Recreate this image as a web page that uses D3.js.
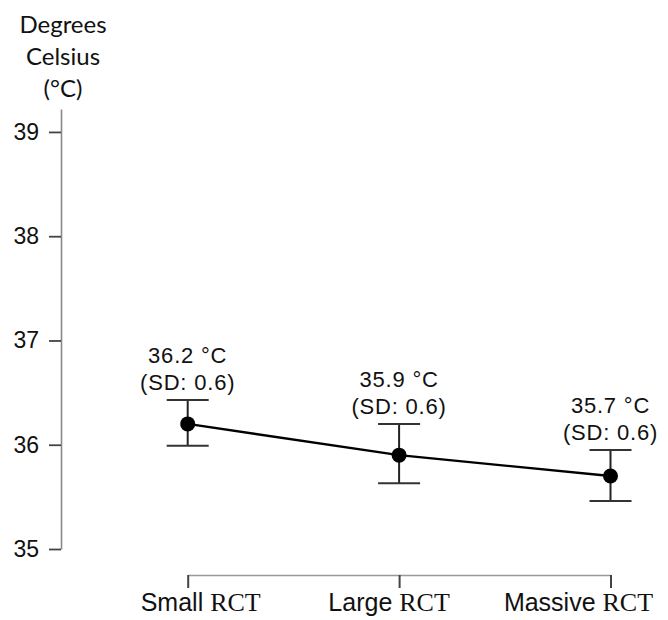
<!DOCTYPE html>
<html>
<head>
<meta charset="utf-8">
<script src="https://cdn.jsdelivr.net/npm/d3@7"></script>
<style>
  body { margin: 0; background: #fff; }
  svg { display: block; }
</style>
</head>
<body>
<script>
// values
var groups = ["Small RCT", "Large RCT", "Massive RCT"];
var means = [36.2, 35.9, 35.7];
var lower = [35.99, 35.63, 35.46];
var upper = [36.43, 36.20, 35.95];
var sds = [0.6, 0.6, 0.6];
var yTicks = [35, 36, 37, 38, 39];

var width = 668, height = 620;

var svg = d3.select("body").append("svg")
  .attr("width", width)
  .attr("height", height);

var x = d3.scalePoint().domain(groups).range([187.7, 610.5]);
var y = d3.scaleLinear().domain([35, 39.22]).range([549, 109]);

var data = groups.map(function (g, i) {
  return { group: g, mean: means[i], lo: lower[i], hi: upper[i], sd: sds[i] };
});

// Y axis
var yAxis = svg.append("g")
  .attr("transform", "translate(61,0)")
  .call(d3.axisLeft(y).tickValues(yTicks).tickSize(12).tickSizeOuter(0).tickPadding(10).tickFormat(d3.format("d")));
yAxis.select(".domain").attr("stroke", "#8a8a8a").attr("stroke-width", 1.6);
yAxis.selectAll(".tick line").attr("stroke", "#444").attr("stroke-width", 1.8);
yAxis.selectAll(".tick text")
  .attr("fill", "#111")
  .style("font-family", "'Liberation Sans', Arial, sans-serif")
  .style("font-size", "23px");

// Y title
var title = ["Degrees", "Celsius", "(°C)"];
svg.append("g").selectAll("text")
  .data(title)
  .enter()
  .append("text")
  .attr("x", 63)
  .attr("y", function (d, i) { return 33 + i * 32; })
  .attr("text-anchor", "middle")
  .style("font-family", "Lato, 'Open Sans', sans-serif")
  .style("font-size", "24px")
  .attr("fill", "#111")
  .text(function (d) { return d; });

// X axis
var xAxis = svg.append("g")
  .attr("transform", "translate(0,575)")
  .call(d3.axisBottom(x).tickSize(13).tickSizeOuter(0).tickFormat(""));
xAxis.select(".domain").attr("stroke", "#999").attr("stroke-width", 1.6);
xAxis.selectAll(".tick line").attr("stroke", "#444").attr("stroke-width", 2);

// x labels: first word in sans, "RCT" in serif as in the original
var labelShift = [13, -10, -32];
var xl = svg.append("g").selectAll("text")
  .data(groups)
  .enter()
  .append("text")
  .attr("x", function (d, i) { return x(d) + labelShift[i]; })
  .attr("y", 611)
  .attr("text-anchor", "middle")
  .attr("fill", "#111")
  .style("font-size", "25px");
xl.append("tspan")
  .style("font-family", "'Liberation Sans', Arial, sans-serif")
  .text(function (d) { return d.split(" ")[0] + " "; });
xl.append("tspan")
  .style("font-family", "'Liberation Serif', 'Times New Roman', serif")
  .style("font-size", "26px")
  .text(function (d) { return d.split(" ")[1]; });

// connecting line
var line = d3.line()
  .x(function (d) { return x(d.group); })
  .y(function (d) { return y(d.mean); });
svg.append("path")
  .datum(data)
  .attr("d", line)
  .attr("fill", "none")
  .attr("stroke", "#000")
  .attr("stroke-width", 2.4);

// error bars
var bars = svg.append("g").selectAll("g")
  .data(data)
  .enter()
  .append("g");
bars.append("line")
  .attr("x1", function (d) { return x(d.group); })
  .attr("x2", function (d) { return x(d.group); })
  .attr("y1", function (d) { return y(d.lo); })
  .attr("y2", function (d) { return y(d.hi); })
  .attr("stroke", "#222").attr("stroke-width", 2);
bars.append("line")
  .attr("x1", function (d) { return x(d.group) - 21; })
  .attr("x2", function (d) { return x(d.group) + 21; })
  .attr("y1", function (d) { return y(d.hi); })
  .attr("y2", function (d) { return y(d.hi); })
  .attr("stroke", "#333").attr("stroke-width", 2);
bars.append("line")
  .attr("x1", function (d) { return x(d.group) - 21; })
  .attr("x2", function (d) { return x(d.group) + 21; })
  .attr("y1", function (d) { return y(d.lo); })
  .attr("y2", function (d) { return y(d.lo); })
  .attr("stroke", "#333").attr("stroke-width", 2);

// points
svg.append("g").selectAll("circle")
  .data(data)
  .enter()
  .append("circle")
  .attr("cx", function (d) { return x(d.group); })
  .attr("cy", function (d) { return y(d.mean); })
  .attr("r", 7.5)
  .attr("fill", "#000");

// value labels above the bars
var vl = svg.append("g").selectAll("text")
  .data(data)
  .enter()
  .append("text")
  .attr("text-anchor", "middle")
  .attr("fill", "#111")
  .style("font-family", "'Liberation Sans', Arial, sans-serif")
  .style("font-size", "22px")
  .style("letter-spacing", "0.8px");
vl.append("tspan")
  .attr("x", function (d) { return x(d.group); })
  .attr("y", function (d) { return y(d.hi) - 37; })
  .text(function (d) { return d.mean.toFixed(1) + " °C"; });
vl.append("tspan")
  .attr("x", function (d) { return x(d.group); })
  .attr("y", function (d) { return y(d.hi) - 9.5; })
  .text(function (d) { return "(SD: " + d.sd.toFixed(1) + ")"; });
</script>
</body>
</html>
